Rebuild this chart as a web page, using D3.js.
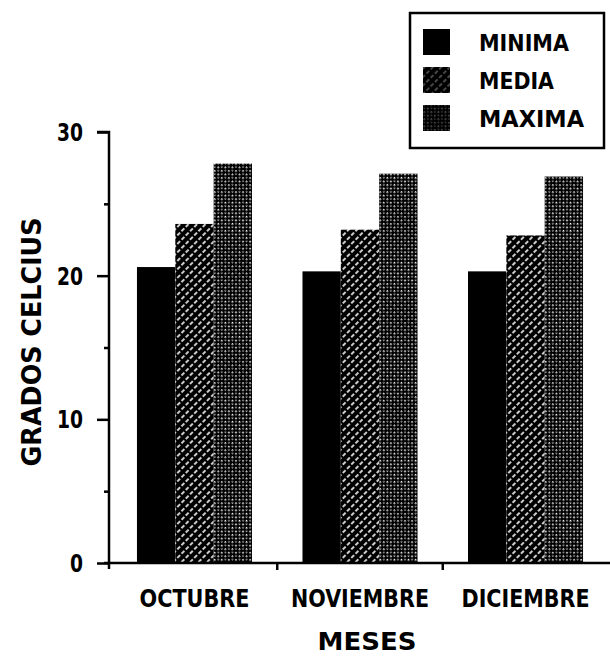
<!DOCTYPE html>
<html>
<head>
<meta charset="utf-8">
<script src="https://cdn.jsdelivr.net/npm/d3@7"></script>
<style>
  body { margin: 0; background: #fff; }
  svg { display: block; }
  text { font-family: "DejaVu Sans Condensed", "DejaVu Sans", sans-serif; font-weight: bold; font-stretch: condensed; fill: #000; }
</style>
</head>
<body>
<svg id="chart"></svg>
<script>
// datos
const months = ["OCTUBRE", "NOVIEMBRE", "DICIEMBRE"]
const series = ["MINIMA", "MEDIA", "MAXIMA"]
const minima = [20.6, 20.3, 20.3]
const media = [23.6, 23.2, 22.8]
const maxima = [27.8, 27.1, 26.9]
const yTicks = [0, 10, 20, 30]
const yMinorTicks = [5, 15, 25]

const size = {width: 610, height: 657}
const values = {MINIMA: minima, MEDIA: media, MAXIMA: maxima}
const monthWidths = [110, 138, 128]
const legendWidths = [90, 75, 105]

const svg = d3.select("#chart")
  .attr("width", size.width)
  .attr("height", size.height)

// patrones de relleno
const defs = svg.append("defs")

const pMedia = defs.append("pattern")
  .attr("id", "pat-media")
  .attr("patternUnits", "userSpaceOnUse")
  .attr("width", 6).attr("height", 6)
  .attr("patternTransform", "rotate(-45)")
pMedia.append("rect").attr("width", 6).attr("height", 6).attr("fill", "#000")
pMedia.append("line")
  .attr("x1", 0).attr("x2", 6).attr("y1", 3).attr("y2", 3)
  .attr("stroke", "#fff").attr("stroke-width", 1.6)
  .attr("stroke-dasharray", "4 2")

const pMax = defs.append("pattern")
  .attr("id", "pat-max")
  .attr("patternUnits", "userSpaceOnUse")
  .attr("width", 5).attr("height", 5)
  .attr("patternTransform", "rotate(45)")
pMax.append("rect").attr("width", 5).attr("height", 5).attr("fill", "#000")
pMax.append("rect").attr("x", 0).attr("y", 0).attr("width", 1.6).attr("height", 1.6).attr("fill", "#fff")
pMax.append("rect").attr("x", 2.5).attr("y", 2.5).attr("width", 1.4).attr("height", 1.4).attr("fill", "#ddd")

const fills = {MINIMA: "#000", MEDIA: "url(#pat-media)", MAXIMA: "url(#pat-max)"}

// escalas
const x = d3.scaleBand()
  .domain(months)
  .range([108, 612])
  .paddingInner(0.305)
  .paddingOuter(0.175)

const xSub = d3.scaleBand()
  .domain(series)
  .range([0, x.bandwidth()])

const y = d3.scaleLinear()
  .domain([0, 30])
  .range([563, 132])

// barras
const groups = svg.append("g").attr("class", "bars")
  .selectAll("g")
  .data(months)
  .enter()
  .append("g")
  .attr("transform", d => `translate(${x(d)},0)`)

groups.selectAll("rect")
  .data((m, i) => series.map(s => ({s: s, v: values[s][i]})))
  .enter()
  .append("rect")
  .attr("x", d => xSub(d.s))
  .attr("y", d => y(d.v))
  .attr("width", xSub.bandwidth())
  .attr("height", d => y(0) - y(d.v))
  .attr("fill", d => fills[d.s])

// eje Y
const yAxis = svg.append("g")
  .attr("transform", "translate(109,0)")
  .call(d3.axisLeft(y).tickValues(yTicks).tickSize(12).tickPadding(14))
yAxis.select(".domain").attr("stroke", "#000").attr("stroke-width", 2.5)
  .attr("d", `M-12,${y(30)}H0V${y(0) + 6}`)
yAxis.selectAll(".tick line").attr("stroke", "#000").attr("stroke-width", 2.5)
yAxis.selectAll(".tick text")
  .attr("font-size", 24)
  .attr("dy", "0.36em")
  .attr("textLength", d => d === 0 ? 13 : 26)
  .attr("lengthAdjust", "spacingAndGlyphs")

const yMinor = svg.append("g")
  .attr("transform", "translate(109,0)")
  .call(d3.axisLeft(y).tickValues(yMinorTicks).tickSize(5).tickFormat(""))
yMinor.select(".domain").remove()
yMinor.selectAll(".tick line").attr("stroke", "#000").attr("stroke-width", 2.5)

// eje X
const xAxis = svg.append("g")
  .attr("transform", `translate(0,${y(0)})`)
  .call(d3.axisBottom(x).tickSize(0).tickPadding(26))
xAxis.select(".domain").attr("stroke", "#000").attr("stroke-width", 2.5)
  .attr("d", "M104,0H610")
xAxis.selectAll(".tick text")
  .attr("font-size", 25)
  .attr("dy", "0.71em")
  .attr("textLength", (d, i) => monthWidths[i])
  .attr("lengthAdjust", "spacingAndGlyphs")

// marcas entre grupos
const gap = x.step() * x.paddingInner() / 2
xAxis.selectAll(".sep")
  .data(months.slice(1))
  .enter()
  .append("line")
  .attr("class", "sep")
  .attr("x1", d => x(d) - gap).attr("x2", d => x(d) - gap)
  .attr("y1", 0).attr("y2", 7)
  .attr("stroke", "#000").attr("stroke-width", 2.5)

// titulos
svg.append("text")
  .attr("x", 367).attr("y", 650)
  .attr("text-anchor", "middle")
  .attr("font-size", 25)
  .attr("textLength", 99)
  .attr("lengthAdjust", "spacingAndGlyphs")
  .text("MESES")

svg.append("text")
  .attr("transform", "translate(41,342) rotate(-90)")
  .attr("text-anchor", "middle")
  .attr("font-size", 27)
  .attr("textLength", 249)
  .attr("lengthAdjust", "spacingAndGlyphs")
  .text("GRADOS CELCIUS")

// leyenda
const legend = svg.append("g").attr("class", "legend")
legend.append("rect")
  .attr("x", 410).attr("y", 13)
  .attr("width", 194).attr("height", 135)
  .attr("fill", "#fff").attr("stroke", "#000").attr("stroke-width", 2.5)

const legendY = d3.scalePoint().domain(series).range([42, 118])

const items = legend.selectAll(".item")
  .data(series)
  .enter()
  .append("g")
  .attr("class", "item")
  .attr("transform", d => `translate(0,${legendY(d)})`)

items.append("rect")
  .attr("x", 423).attr("y", -13)
  .attr("width", 27).attr("height", 26)
  .attr("fill", "#000")

items.filter(d => d !== "MINIMA").append("rect")
  .attr("x", 423).attr("y", -13)
  .attr("width", 27).attr("height", 26)
  .attr("fill", d => fills[d])
  .attr("opacity", 0.35)

items.append("text")
  .attr("x", 479).attr("y", 9)
  .attr("font-size", 23)
  .attr("textLength", (d, i) => legendWidths[i])
  .attr("lengthAdjust", "spacingAndGlyphs")
  .text(d => d)
</script>
</body>
</html>
